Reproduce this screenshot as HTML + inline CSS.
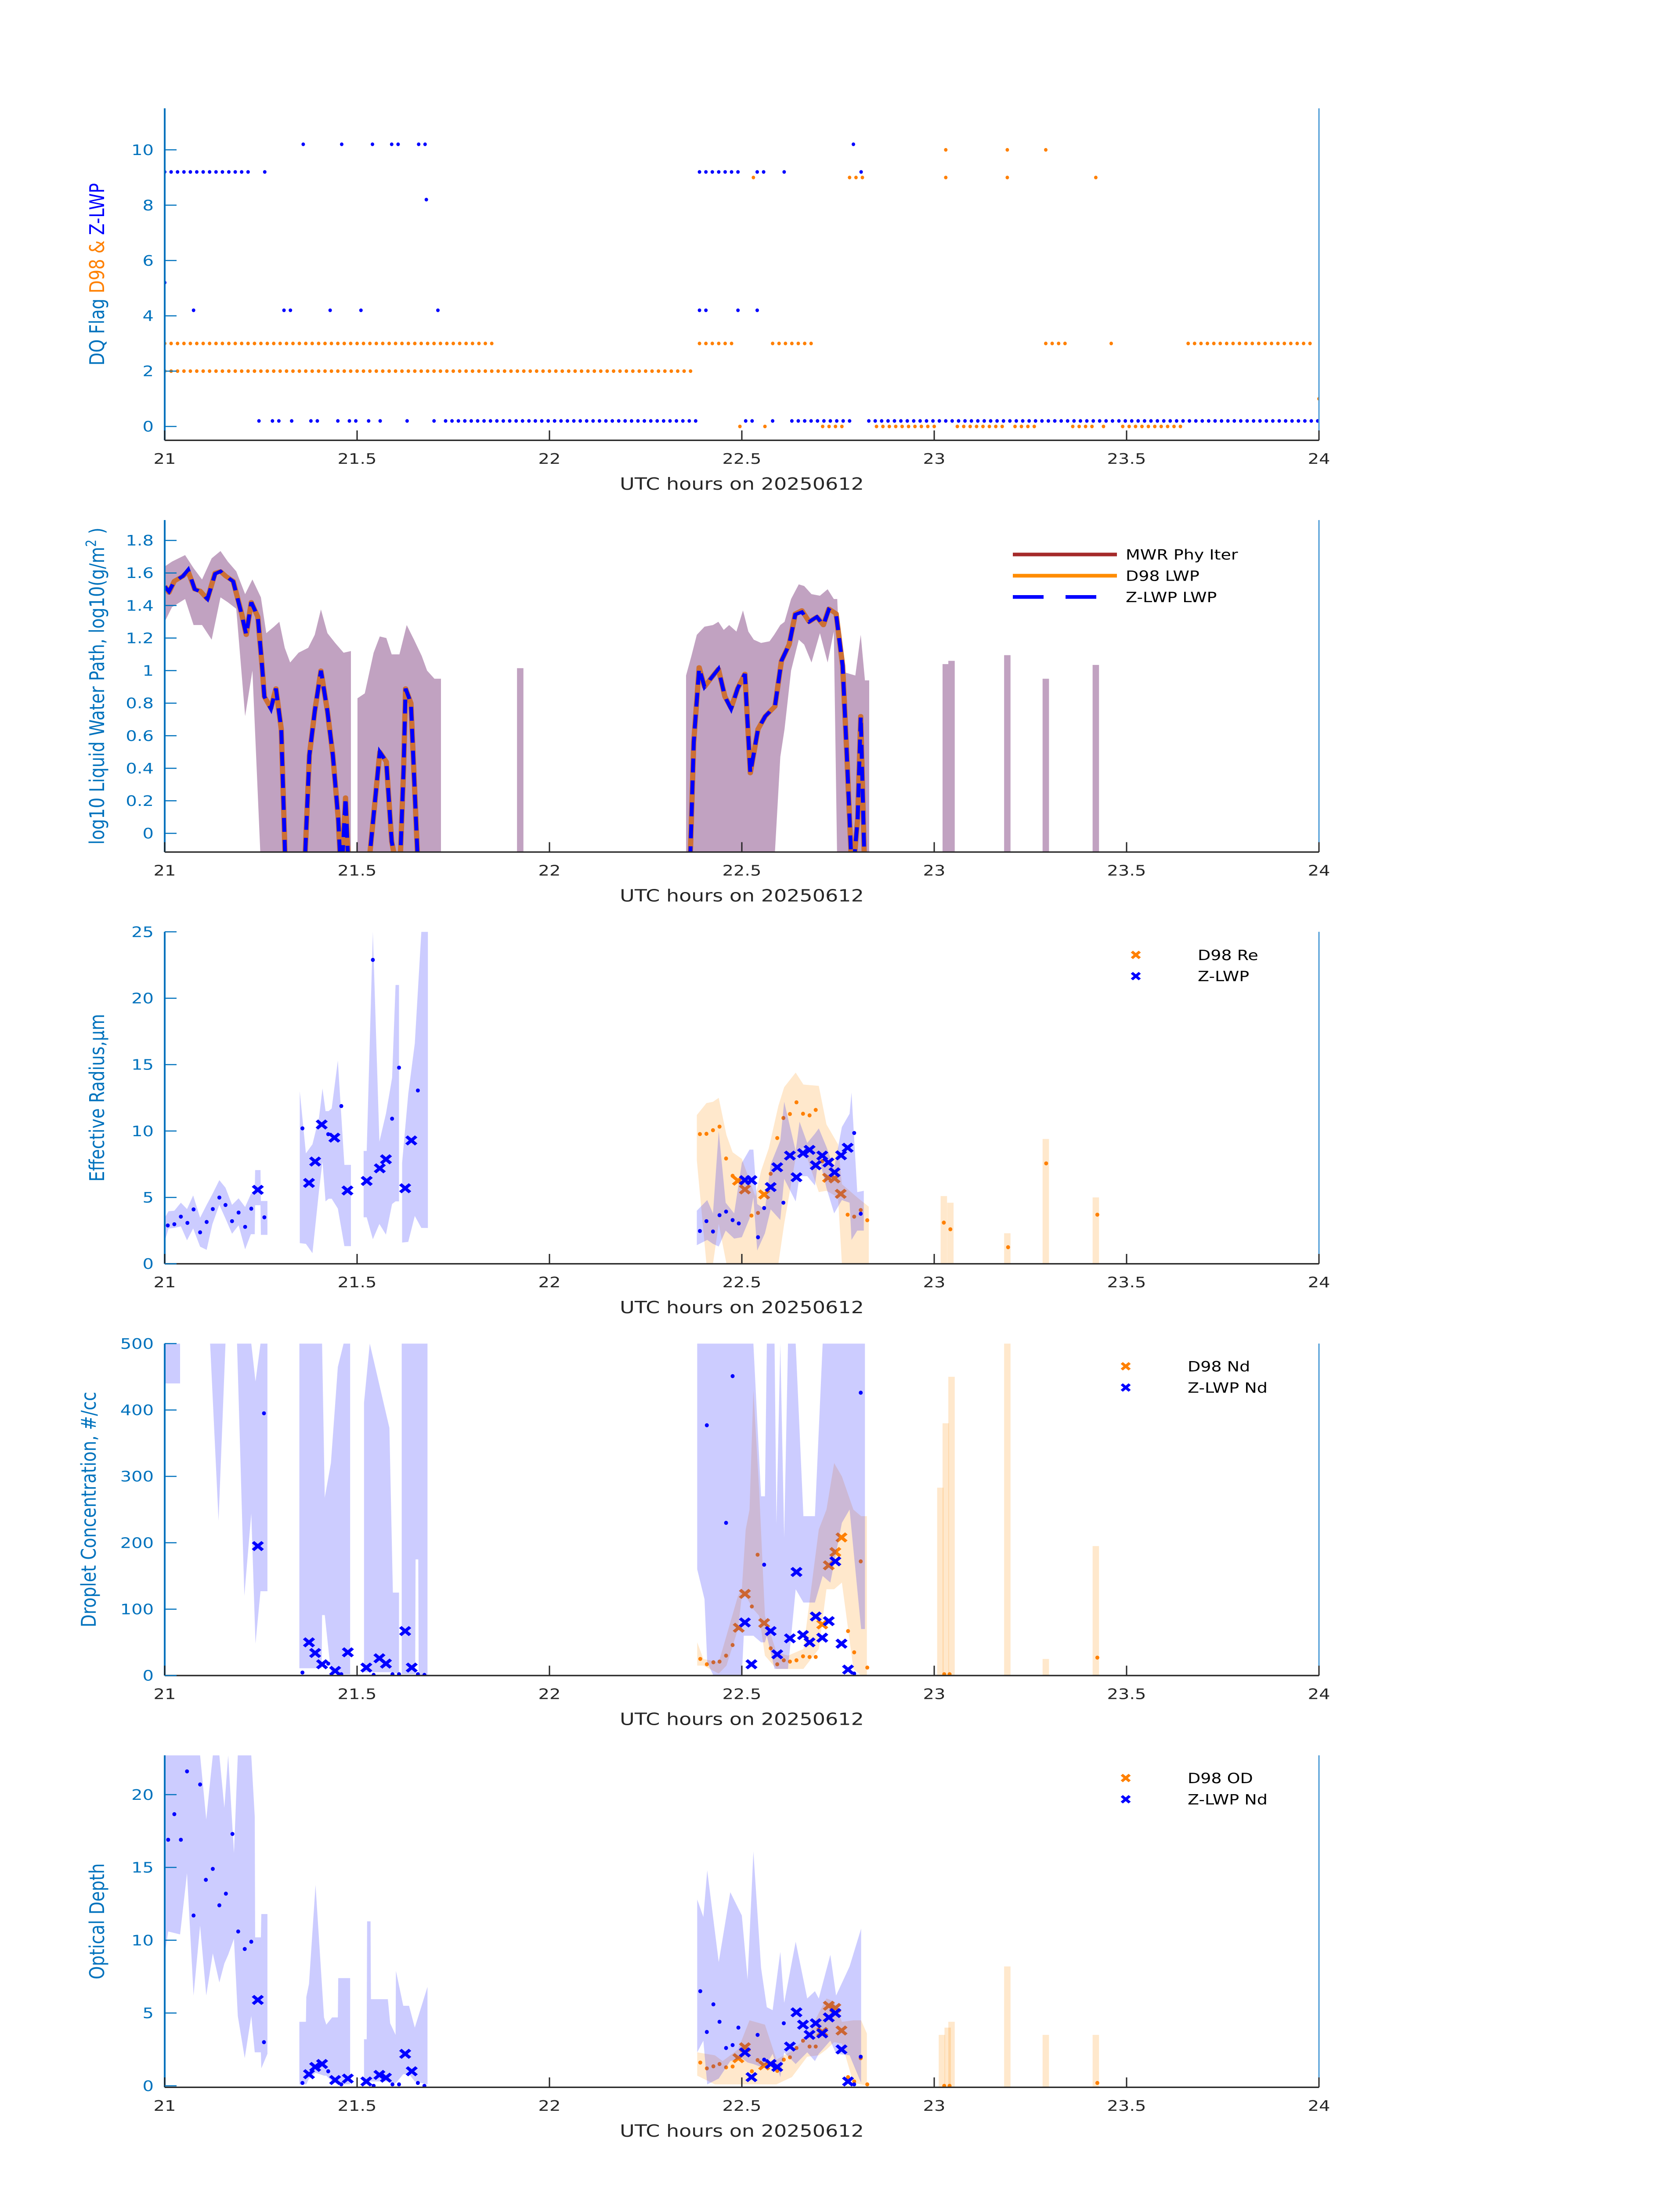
<!DOCTYPE html>
<html><head><meta charset="utf-8"><title>Cloud retrievals 20250612</title>
<style>html,body{margin:0;padding:0;background:#fff;width:100%;height:100%;overflow:hidden}#wrap{width:100vw;height:100vh;overflow:hidden;position:relative}svg{display:block;position:absolute;left:0;top:0;width:100%;height:100%}text{font-family:"DejaVu Sans","Liberation Sans",sans-serif}</style>
</head><body>
<div id="wrap">
<svg id="fig" xmlns="http://www.w3.org/2000/svg" viewBox="0 0 3825 6000" preserveAspectRatio="none">
<rect width="3825" height="6000" fill="#fff"/>
</svg>
</div>
<script>
// ---------- Panel 1: DQ flags (segments [start,end] at 1-minute resolution) ----------
const zFlag92=[[21.0,21.23],[21.26,21.26],[22.39,22.49],[22.54,22.56],[22.61,22.61],[22.81,22.81]];
const zFlag102=[[21.36,21.36],[21.46,21.46],[21.54,21.54],[21.59,21.61],[21.66,21.68],[22.79,22.79]];
const zFlag82=[[21.68,21.68]];
const zFlag52=[[21.0,21.0]];
const zFlag42=[[21.075,21.075],[21.31,21.34],[21.43,21.43],[21.51,21.51],[21.71,21.71],[22.39,22.41],[22.49,22.49],[22.54,22.54]];
const zFlag02=[[21.245,21.245],[21.28,21.30],[21.33,21.33],[21.38,21.41],[21.45,21.45],[21.48,21.50],[21.53,21.53],[21.56,21.57],[21.63,21.64],[21.70,21.70],[21.73,22.38],[22.51,22.53],[22.58,22.59],[22.63,22.78],[22.83,24.0]];
const dFlag3=[[21.0,21.86],[22.39,22.48],[22.58,22.69],[23.29,23.34],[23.46,23.47],[23.66,23.98]];
const dFlag2=[[21.0,22.38]];
const dFlag0=[[22.495,22.51],[22.56,22.56],[22.71,22.76],[22.85,23.01],[23.06,23.18],[23.21,23.27],[23.36,23.41],[23.44,23.44],[23.49,23.64]];
const dFlag9=[[22.53,22.54],[22.78,22.82],[23.03,23.04],[23.19,23.19],[23.42,23.42]];
const dFlag10=[[23.03,23.04],[23.19,23.19],[23.29,23.29]];
const dFlag1=[[24.0,24.0]];

// ---------- Panel 2: LWP ----------
const lwpTimes=[21.0,21.011,21.025,21.047,21.061,21.078,21.092,21.111,21.131,21.145,21.159,21.178,21.2,21.212,21.225,21.242,21.253,21.259,21.276,21.289,21.303,21.315,21.362,21.376,21.39,21.406,21.423,21.437,21.451,21.459,21.47,21.479,21.526,21.559,21.576,21.59,21.61,21.621,21.626,21.64,21.66,null,
22.364,22.375,22.389,22.403,22.419,22.439,22.456,22.472,22.489,22.508,22.522,22.542,22.561,22.586,22.603,22.623,22.639,22.656,22.675,22.695,22.712,22.726,22.745,22.762,22.773,22.787,22.801,22.809,22.82];
const zlwpLwp=[1.517,1.486,1.548,1.58,1.62,1.5,1.486,1.44,1.595,1.61,1.58,1.548,1.345,1.22,1.42,1.33,1.03,0.84,0.765,0.89,0.64,-0.3,-0.3,0.48,0.75,1.0,0.75,0.48,0.09,-0.3,0.22,-0.3,-0.3,0.5,0.44,-0.05,-0.3,0.4,0.89,0.8,-0.3,null,
-0.3,0.56,1.015,0.9,0.95,1.01,0.84,0.765,0.89,0.98,0.37,0.64,0.72,0.78,1.06,1.16,1.345,1.36,1.3,1.33,1.28,1.375,1.345,1.03,0.48,-0.3,0.09,0.72,-0.3];
const d98Lwp=[1.52,1.48,1.55,1.58,1.61,1.5,1.49,1.44,1.6,1.61,1.58,1.55,1.35,1.22,1.42,1.33,1.03,0.84,0.77,0.89,0.64,-0.3,-0.3,0.48,0.75,1.0,0.75,0.48,0.09,-0.3,0.22,-0.3,-0.3,0.5,0.44,-0.05,-0.3,0.4,0.89,0.8,-0.3,null,
-0.3,0.56,1.02,0.9,0.95,1.01,0.84,0.77,0.89,0.98,0.37,0.64,0.72,0.78,1.06,1.16,1.35,1.37,1.3,1.33,1.28,1.38,1.35,1.03,0.48,-0.3,0.09,0.72,-0.3];
const lwpBandT=[21.0,21.019,21.053,21.075,21.097,21.122,21.145,21.164,21.186,21.209,21.228,21.25,21.264,21.284,21.298,21.312,21.326,21.348,21.373,21.39,21.406,21.423,21.443,21.465,21.484,null,
21.501,21.52,21.543,21.559,21.576,21.59,21.61,21.629,21.648,21.668,21.682,21.701,21.718,null,
22.355,22.369,22.383,22.403,22.425,22.439,22.453,22.467,22.486,22.503,22.517,22.531,22.55,22.572,22.584,22.6,22.611,22.628,22.648,22.662,22.681,22.703,22.723,22.739,22.748,22.756,22.773,22.795,22.809,22.82,22.831];
const lwpBandHi=[1.64,1.67,1.71,1.63,1.56,1.69,1.735,1.67,1.61,1.47,1.56,1.45,1.23,1.27,1.3,1.14,1.05,1.11,1.14,1.22,1.376,1.23,1.17,1.11,1.12,null,
0.83,0.86,1.11,1.21,1.2,1.1,1.1,1.28,1.19,1.09,1.0,0.95,0.95,null,
0.97,1.09,1.22,1.27,1.28,1.3,1.25,1.28,1.24,1.37,1.24,1.19,1.17,1.18,1.22,1.28,1.3,1.44,1.53,1.52,1.47,1.46,1.5,1.44,1.44,1.0,0.985,0.97,1.22,0.94,0.94];
const lwpBandLo=[1.3,1.39,1.44,1.28,1.28,1.19,1.45,1.42,1.38,0.72,1.0,-0.2,-0.2,-0.2,-0.2,-0.2,-0.2,-0.2,-0.2,-0.2,-0.2,-0.2,-0.2,-0.2,-0.2,null,
-0.2,-0.2,-0.2,-0.2,-0.2,-0.2,-0.2,-0.2,-0.2,-0.2,-0.2,-0.2,-0.2,null,
-0.2,-0.2,-0.2,-0.2,-0.2,-0.2,-0.2,-0.2,-0.2,-0.2,-0.2,-0.2,-0.2,-0.2,-0.2,0.47,0.64,1.0,1.19,1.16,1.05,1.23,1.05,1.24,-0.2,-0.2,-0.2,-0.2,-0.2,-0.2,-0.2];
const lwpBarT=[21.924,23.03,23.045,23.19,23.29,23.42];
const lwpBarHi=[1.015,1.04,1.06,1.095,0.95,1.035];

// ---------- Panel 3: Effective radius ----------
const reZdotT=[21.008,21.025,21.042,21.059,21.075,21.092,21.109,21.125,21.142,21.158,21.175,21.192,21.209,21.225,21.259,21.358,21.425,21.459,21.541,21.591,21.609,21.658,22.391,22.408,22.425,22.442,22.459,22.476,22.492,22.542,22.558,22.608,22.792,22.809];
const reZdotV=[2.89,2.98,3.55,3.08,4.1,2.37,3.15,4.12,4.99,4.43,3.21,3.86,2.78,4.15,3.5,10.2,9.76,11.88,22.89,10.93,14.77,13.05,2.47,3.21,2.43,3.66,3.93,3.29,3.04,2.0,4.2,4.6,9.85,3.77];
const reZxT=[21.242,21.375,21.391,21.408,21.441,21.475,21.525,21.559,21.575,21.625,21.641,22.508,22.525,22.575,22.592,22.625,22.642,22.659,22.676,22.692,22.709,22.725,22.741,22.758,22.775];
const reZxV=[5.57,6.09,7.7,10.49,9.5,5.52,6.24,7.19,7.87,5.69,9.29,6.3,6.3,5.78,7.27,8.15,6.52,8.33,8.58,7.42,8.15,7.63,6.89,8.17,8.74];
const reDdotT=[22.391,22.408,22.425,22.442,22.459,22.476,22.525,22.542,22.575,22.592,22.608,22.625,22.642,22.659,22.676,22.692,22.709,22.775,22.792,22.809,22.826,23.025,23.042,23.192,23.291,23.424];
const reDdotV=[9.77,9.79,10.06,10.33,7.93,6.63,3.63,3.83,6.78,9.47,10.98,11.28,12.16,11.3,11.18,11.59,7.73,3.7,3.55,4.05,3.28,3.1,2.6,1.25,7.56,3.7];
const reDxT=[22.49,22.508,22.558,22.724,22.741,22.757];
const reDxV=[6.26,5.6,5.22,6.48,6.43,5.27];
const reZbandT=[21.0,21.01,21.025,21.042,21.058,21.074,21.092,21.109,21.124,21.142,21.158,21.175,21.192,21.209,21.224,21.234,21.235,21.249,21.25,21.267,null,
21.351,21.367,21.384,21.401,21.41,21.418,21.426,21.434,21.45,21.467,21.484,null,
21.517,21.525,21.541,21.558,21.575,21.591,21.6,21.609,null,21.617,21.633,21.65,21.667,21.684,null,
22.383,22.41,22.425,22.44,22.458,22.48,22.5,22.52,22.53,22.54,22.56,22.575,22.6,22.61,22.64,22.65,22.67,22.69,22.7,22.72,22.74,22.76,22.78,22.785,22.8,22.817];
const reZbandLo=[1.69,2.66,2.7,2.82,1.77,2.66,1.29,1.05,2.99,4.44,3.4,2.26,2.9,1.09,2.23,2.23,4.41,4.41,2.18,2.18,null,
1.56,1.5,0.8,5.5,7.7,4.7,4.9,4.9,4.16,1.33,1.33,null,
3.5,3.5,1.85,3.0,2.2,4.5,4.7,4.7,null,1.6,1.65,3.6,2.7,2.7,null,
1.4,1.8,1.5,1.3,2.5,1.9,2.0,3.4,5.0,1.0,2.3,4.1,3.3,6.4,4.7,6.6,6.6,5.9,8.1,5.7,3.8,4.8,4.6,1.8,2.5,2.5];
const reZbandHi=[3.47,3.96,4.0,4.6,4.12,5.15,3.47,4.44,5.25,6.3,5.73,4.44,4.93,4.28,5.25,5.41,7.06,7.06,4.73,4.73,null,
13.0,8.32,9.0,11.0,13.2,11.5,11.5,11.7,15.3,7.45,7.45,null,
8.5,8.5,25,9.2,11.3,14.0,21,21,null,7.6,12.8,16.6,25,25,null,
4.0,4.8,3.8,10.0,4.6,3.8,7.6,8.6,8.6,4.5,4.1,7.5,9.3,12.2,8.5,10.7,9.1,9.8,10.2,8.8,7.2,10.3,11.3,12.9,5.4,5.5];
const reDbandT=[22.383,22.408,22.425,22.44,22.46,22.476,22.5,22.535,22.55,22.57,22.595,22.61,22.64,22.66,22.7,22.72,22.75,22.76,22.8,22.83];
const reDbandLo=[7.8,0,0,3.0,0,0,0,0,0,0,0,3.0,8.0,8.8,5.4,5.5,5.0,0,0,0];
const reDbandHi=[11.2,12.1,12.2,12.5,9.7,8.4,7.9,5.1,7.0,8.7,11.9,13.3,14.4,13.5,13.4,10.5,9.0,6.0,5.0,4.3];
const reDbarT=[23.025,23.042,23.19,23.29,23.42];
const reDbarHi=[5.1,4.6,2.3,9.4,5.0];

// ---------- Panel 4: Droplet concentration ----------
const ndZdotT=[21.258,21.358,21.425,21.459,21.543,21.592,21.609,21.658,21.675,22.409,22.459,22.476,22.558,22.792,22.809];
const ndZdotV=[395,4.5,18,2,1,2,2,2,1,377,230,451,167,3,426];
const ndZxT=[21.242,21.375,21.391,21.409,21.443,21.476,21.524,21.558,21.575,21.625,21.642,22.508,22.525,22.575,22.592,22.625,22.642,22.659,22.676,22.692,22.709,22.726,22.743,22.759,22.776];
const ndZxV=[195,50,34,17,7,35,12,26,18,67,12,80,17,67,32,56,156,61,50,89,57,82,172,48,9];
const ndDdotT=[22.392,22.409,22.426,22.442,22.459,22.476,22.526,22.541,22.575,22.592,22.609,22.625,22.642,22.659,22.676,22.692,22.776,22.792,22.809,22.826,23.026,23.04,23.424];
const ndDdotV=[25,17,20,21,30,46,104,182,41,17,23,21,23,29,28,28,67,35,172,12,2,2,27];
const ndDxT=[22.492,22.508,22.558,22.709,22.726,22.743,22.759];
const ndDxV=[72,123,79,77,166,186,208];
const ndZbandT=[21.0,21.04,null,21.118,21.14,21.158,null,21.188,21.207,21.225,21.236,21.249,21.267,null,
21.35,21.408,21.409,21.416,21.432,21.45,21.465,21.482,null,21.518,21.533,21.584,21.593,21.609,null,21.616,21.651,21.652,21.659,21.66,21.683,null,
22.384,22.403,22.41,22.426,22.5,22.505,22.53,22.55,22.56,22.565,22.585,22.59,22.6,22.61,22.62,22.64,22.66,22.69,22.71,22.73,22.76,22.78,22.81,22.82];
const ndZbandLo=[440,440,null,500,233,500,null,500,120,244,48,127,127,null,
11,11,91,91,5,5,2,2,null,5,5,5,5,2,null,2,2,175,175,1,1,null,
160,115,20,0,0,60,60,50,50,60,10,10,10,10,10,130,110,110,150,140,230,250,70,70];
const ndZbandHi=[500,500,null,500,500,500,null,500,500,500,443,500,500,null,
500,500,500,268,320,465,500,500,null,411,500,373,125,125,null,500,500,500,500,500,500,null,
500,500,500,500,500,500,500,270,270,500,500,228,500,208,500,500,240,240,500,500,500,500,500,500];
const ndDbandT=[22.384,22.4,22.44,22.46,22.49,22.5,22.51,22.52,22.53,22.545,22.56,22.59,22.62,22.66,22.7,22.72,22.74,22.76,22.79,22.81,22.825];
const ndDbandLo=[15,15,3,15,70,120,120,110,100,90,30,10,10,10,40,130,130,140,10,0,0];
const ndDbandHi=[50,25,20,60,120,130,220,250,430,280,90,35,30,40,220,250,320,300,250,240,240];
const ndDbarT=[23.016,23.03,23.045,23.19,23.29,23.42];
const ndDbarHi=[283,380,450,500,25,195];

// ---------- Panel 5: Optical depth ----------
const odZdotT=[21.009,21.025,21.042,21.058,21.075,21.092,21.107,21.125,21.142,21.159,21.176,21.191,21.208,21.225,21.258,21.358,21.425,21.459,21.543,21.592,21.609,21.658,21.675,22.392,22.409,22.426,22.442,22.459,22.476,22.491,22.541,22.558,22.609,22.792,22.809];
const odZdotV=[16.9,18.66,16.9,21.6,11.7,20.7,14.15,14.9,12.4,13.2,17.3,10.6,9.4,9.9,3.0,0.2,1.0,0.1,0,0.1,0.1,0.2,0,6.5,3.7,5.6,4.4,2.6,2.8,4.0,3.5,1.8,4.3,0.1,2.0];
const odZxT=[21.242,21.375,21.391,21.409,21.443,21.476,21.524,21.558,21.575,21.625,21.642,22.508,22.525,22.575,22.592,22.625,22.642,22.659,22.676,22.692,22.709,22.726,22.743,22.759,22.776];
const odZxV=[5.9,0.8,1.3,1.5,0.4,0.5,0.3,0.75,0.56,2.2,1.0,2.3,0.6,1.5,1.3,2.7,5.05,4.2,3.5,4.3,3.6,4.7,5.0,2.5,0.3];
const odDdotT=[22.392,22.409,22.426,22.442,22.459,22.476,22.526,22.541,22.592,22.609,22.625,22.642,22.659,22.676,22.692,22.776,22.792,22.809,22.826,23.026,23.04,23.424];
const odDdotV=[1.6,1.2,1.34,1.5,1.27,1.33,1.0,1.77,1.03,1.8,1.96,2.6,3.1,2.7,2.7,0.6,0.3,1.9,0.1,0,0,0.2];
const odDxT=[22.491,22.508,22.558,22.709,22.726,22.743,22.759];
const odDxV=[1.9,2.65,1.4,3.7,5.5,5.35,3.8];
const odZbandT=[21.0,21.009,21.04,21.058,21.075,21.092,21.108,21.125,21.142,21.155,21.165,21.18,21.19,21.208,21.225,21.234,21.235,21.25,21.251,21.267,null,
21.35,21.367,21.368,21.375,21.392,21.414,21.42,21.435,21.45,21.451,21.482,null,
21.518,21.525,21.526,21.535,21.536,21.58,21.586,21.6,21.601,21.62,21.635,21.65,21.683,null,
22.384,22.4,22.41,22.44,22.47,22.5,22.515,22.53,22.55,22.565,22.58,22.6,22.61,22.64,22.67,22.69,22.7,22.73,22.745,22.78,22.81];
const odZbandLo=[9.0,10.6,10.4,14.6,6.2,11.0,6.2,9.1,7.1,8.4,9.0,10.1,4.8,1.9,4.8,2.3,2.3,2.3,1.2,2.2,null,
0.1,0.1,0.1,0.5,0.9,0.7,0.7,0.3,0.1,0.1,0.1,null,
0.1,0.1,0.2,0.3,0.3,0.3,0.2,0.2,0.2,0.8,0.8,0.3,0.1,null,
2.3,3.1,0.1,0.5,1.7,1.9,1.6,1.5,1.3,1.5,2.2,0.6,2.3,1.5,2.3,1.7,2.2,3.1,2.2,2.1,0.2];
const odZbandHi=[22.7,22.7,22.7,22.7,22.7,22.7,18.3,22.7,22.7,19.1,22.7,16.0,22.7,22.7,22.7,18.5,10.2,10.2,11.8,11.8,null,
4.4,4.4,6.1,7.0,13.8,4.7,4.2,4.7,4.7,7.4,7.4,null,
3.2,3.2,11.3,11.3,5.95,5.95,4.3,3.5,7.9,5.5,5.5,4.0,6.8,null,
12.8,11.6,14.8,8.5,13.3,11.7,7.3,16.1,8.1,5.4,5.2,9.2,5.7,9.9,6.0,6.5,6.0,9.0,6.2,8.2,10.8];
const odDbandT=[22.384,22.43,22.45,22.49,22.52,22.56,22.59,22.63,22.67,22.7,22.72,22.74,22.76,22.79,22.81,22.825];
const odDbandLo=[0.7,0.1,0.1,0.1,0.1,0.1,0.1,0.6,2.0,2.1,2.5,3.0,2.9,0.2,0.1,0];
const odDbandHi=[2.3,2.1,1.7,2.5,4.5,4.2,1.8,2.4,3.4,5.0,6.0,5.8,4.4,4.5,4.5,3.6];
const odDbarT=[23.02,23.035,23.045,23.19,23.29,23.42];
const odDbarHi=[3.5,4.0,4.4,8.2,3.5,3.5];

// ---------- rendering ----------
const NS='http://www.w3.org/2000/svg';
const svg=document.getElementById('fig');
const X0=375,X1=3003,PH=907;
const xs=h=>X0+(h-21)*(X1-X0)/3;
const panels=[
 {top:296,ymin:-0.5,ymax:11.5,ticks:[0,2,4,6,8,10],lab:['0','2','4','6','8','10']},
 {top:1421,ymin:-0.115,ymax:1.925,ticks:[0,0.2,0.4,0.6,0.8,1,1.2,1.4,1.6,1.8],lab:['0','0.2','0.4','0.6','0.8','1','1.2','1.4','1.6','1.8']},
 {top:2546,ymin:0,ymax:25,ticks:[0,5,10,15,20,25],lab:['0','5','10','15','20','25']},
 {top:3671,ymin:0,ymax:500,ticks:[0,100,200,300,400,500],lab:['0','100','200','300','400','500']},
 {top:4796,ymin:-0.1,ymax:22.7,ticks:[0,5,10,15,20],lab:['0','5','10','15','20']}];
const xTicks=[21,21.5,22,22.5,23,23.5,24];
const xTickLabels=['21','21.5','22','22.5','23','23.5','24'];
function ys(p,v){return p.top+PH*(p.ymax-v)/(p.ymax-p.ymin);}
function mk(tag,attrs,parent){const e=document.createElementNS(NS,tag);for(const k in attrs)e.setAttribute(k,attrs[k]);(parent||svg).appendChild(e);return e;}

const BLUE='#0000ff',ORANGE='#ff8000',AX='#0072bd';
const BAND_B='rgba(0,0,255,0.2)',BAND_O='rgba(255,140,0,0.2)';

function clipFor(i,p){
  const cp=mk('clipPath',{id:'clip'+i});
  mk('rect',{x:X0,y:p.top,width:X1-X0,height:PH},cp);
}
function drawBand(g,p,ts,lo,hi,fill,name){
  let seg=[];
  const flush=()=>{
    if(seg.length<2){seg=[];return;}
    const up=seg.map(s=>xs(s[0]).toFixed(1)+','+ys(p,s[2]).toFixed(1));
    const dn=seg.slice().reverse().map(s=>xs(s[0]).toFixed(1)+','+ys(p,s[1]).toFixed(1));
    const e=mk('polygon',{points:up.concat(dn).join(' '),fill:fill},g);
    
    
    seg=[];
  };
  for(let i=0;i<ts.length;i++){ if(ts[i]===null){flush();continue;} seg.push([ts[i],lo[i],hi[i]]); }
  flush();
}
function drawBars(g,p,ts,hi,fill,name){
  const w=14.6;
  ts.forEach((t,i)=>{
    const y0=ys(p,Math.max(p.ymin,0)),y1=ys(p,hi[i]);
    const e=mk('rect',{x:xs(t)-w/2,y:Math.min(y0,y1),width:w,height:Math.abs(y0-y1)+ (p.ymin<0?ys(p,p.ymin)-y0:0),fill:fill},g);
    
    
  });
}
function drawDots(g,p,ts,vs,col,name){
  ts.forEach((t,i)=>{
    const e=mk('ellipse',{cx:xs(t).toFixed(1),cy:ys(p,vs[i]).toFixed(1),rx:4.5,ry:5.5,fill:col},g);
    
    
  });
}
function drawX(g,p,ts,vs,col,name){
  ts.forEach((t,i)=>{
    const cx=xs(t),cy=ys(p,vs[i]),r=11;
    const e=mk('path',{d:`M${cx-r},${cy-r}L${cx+r},${cy+r}M${cx-r},${cy+r}L${cx+r},${cy-r}`,stroke:col,'stroke-width':8,fill:'none'},g);
    
    
  });
}
function drawLine(g,p,ts,vs,attrs,name){
  let d='',pen=false;
  ts.forEach((t,i)=>{ if(t===null||vs[i]===null){pen=false;return;} d+=(pen?'L':'M')+xs(t).toFixed(1)+','+ys(p,vs[i]).toFixed(1); pen=true; });
  const a=Object.assign({d:d,fill:'none'},attrs);
  const e=mk('path',a,g);
  
  
}
function drawFlags(g,p,segs,val,col,name){
  segs.forEach(s=>{
    for(let t=s[0];t<=s[1]+1e-6;t+=1/60){
      const e=mk('ellipse',{cx:xs(t).toFixed(1),cy:ys(p,val).toFixed(1),rx:4,ry:5,fill:col},g);
      
      
    }
  });
}
function axes(i,p){
  const bot=p.top+PH;
  const g=mk('g',{});
  
  
  let e=mk('line',{x1:X1,y1:p.top,x2:X1,y2:bot,stroke:'#4a9ad6','stroke-width':3},g);
  
  e=mk('line',{x1:X0,y1:bot,x2:X1,y2:bot,stroke:'#262626','stroke-width':4},g);
  
  e=mk('line',{x1:X0,y1:p.top,x2:X0,y2:bot,stroke:AX,'stroke-width':4},g);
  
  xTicks.forEach((t,k)=>{
    const tk=mk('line',{x1:xs(t),y1:bot,x2:xs(t),y2:bot-27,stroke:'#262626','stroke-width':3},g);
    
    const tl=mk('text',{x:xs(t),y:bot+64,'font-size':40,fill:'#262626','text-anchor':'middle'},g);
    tl.textContent=xTickLabels[k];
    
  });
  p.ticks.forEach((v,k)=>{
    const y=ys(p,v);
    const tk=mk('line',{x1:X0,y1:y,x2:X0+27,y2:y,stroke:AX,'stroke-width':3},g);
    
    const tl=mk('text',{x:350,y:y+14,'font-size':40,fill:AX,'text-anchor':'end'},g);
    tl.textContent=p.lab[k];
    
  });
  const xl=mk('text',{x:(X0+X1)/2,y:bot+135,'font-size':46,fill:'#262626','text-anchor':'middle'},g);
  xl.textContent='UTC hours on 20250612';
  
}
function ylabel(p,x,html){
  const cy=p.top+PH/2;
  const t=mk('text',{x:x,y:cy,'font-size':46,fill:AX,'text-anchor':'middle',transform:`rotate(-90 ${x} ${cy})`});
  t.innerHTML=html;
  
  
}
function legend(x0,y0,entries,textX){
  const g=mk('g',{});
  
  
  entries.forEach((en,k)=>{
    const y=y0+k*58;
    if(en.type==='line'){
      const l=mk('line',{x1:x0,y1:y,x2:x0+237,y2:y,stroke:en.col,'stroke-width':10,'stroke-dasharray':en.dash||'none'},g);
      
    } else {
      const r=9;
      const l=mk('path',{d:`M${x0-r},${y-r}L${x0+r},${y+r}M${x0-r},${y+r}L${x0+r},${y-r}`,stroke:en.col,'stroke-width':7},g);
      
    }
    const t=mk('text',{x:textX,y:y+14,'font-size':38,fill:'#000'},g);
    t.textContent=en.label;
    
  });
}

panels.forEach((p,i)=>clipFor(i,p));
function plotGroup(i,name){const g=mk('g',{'clip-path':`url(#clip${i})`});return g;}

// Panel 1
{const p=panels[0],g=plotGroup(0,'dq-flag-plot');
 drawFlags(g,p,dFlag3,3,ORANGE,'d98-flag-point');drawFlags(g,p,dFlag2,2,ORANGE,'d98-flag-point');
 drawFlags(g,p,dFlag0,0,ORANGE,'d98-flag-point');drawFlags(g,p,dFlag9,9,ORANGE,'d98-flag-point');
 drawFlags(g,p,dFlag10,10,ORANGE,'d98-flag-point');drawFlags(g,p,dFlag1,1,ORANGE,'d98-flag-point');
 drawFlags(g,p,zFlag92,9.2,BLUE,'zlwp-flag-point');drawFlags(g,p,zFlag102,10.2,BLUE,'zlwp-flag-point');
 drawFlags(g,p,zFlag82,8.2,BLUE,'zlwp-flag-point');drawFlags(g,p,zFlag52,5.2,BLUE,'zlwp-flag-point');
 drawFlags(g,p,zFlag42,4.2,BLUE,'zlwp-flag-point');drawFlags(g,p,zFlag02,0.2,BLUE,'zlwp-flag-point');
 axes(0,p);
 ylabel(p,237,'<tspan fill="#0072bd">DQ Flag </tspan><tspan fill="#ff8000">D98 &amp; </tspan><tspan fill="#0000ff">Z-LWP</tspan>');}
// Panel 2
{const p=panels[1],g=plotGroup(1,'lwp-plot');
 drawBand(g,p,lwpBandT,lwpBandLo,lwpBandHi,'#c1a2c1','mwr-lwp-uncertainty-band');
 drawBars(g,p,lwpBarT,lwpBarHi,'#c1a2c1','mwr-lwp-uncertainty-bar');
 drawLine(g,p,lwpTimes,d98Lwp,{stroke:'#cd7034','stroke-width':12,'stroke-linejoin':'round'},'d98-lwp-line');
 drawLine(g,p,lwpTimes,zlwpLwp,{stroke:BLUE,'stroke-width':9,'stroke-dasharray':'38 22'},'zlwp-lwp-line');
 axes(1,p);
 ylabel(p,237,'log10 Liquid Water Path, log10(g/m<tspan baseline-shift="super" font-size="32">2</tspan> )');
 legend(2306,1515,[{type:'line',col:'#a52a2a',label:'MWR Phy Iter'},{type:'line',col:'#ff8c00',label:'D98 LWP'},{type:'line',col:BLUE,dash:'70 50',label:'Z-LWP LWP'}],2563);}
// Panel 3
{const p=panels[2],g=plotGroup(2,'re-plot');
 drawBand(g,p,reDbandT,reDbandLo,reDbandHi,BAND_O,'d98-re-band');
 drawBars(g,p,reDbarT,reDbarHi,BAND_O,'d98-re-bar');
 drawDots(g,p,reDdotT,reDdotV,ORANGE,'d98-re-point');drawX(g,p,reDxT,reDxV,ORANGE,'d98-re-marker');
 drawBand(g,p,reZbandT,reZbandLo,reZbandHi,BAND_B,'zlwp-re-band');
 drawDots(g,p,reZdotT,reZdotV,BLUE,'zlwp-re-point');drawX(g,p,reZxT,reZxV,BLUE,'zlwp-re-marker');
 axes(2,p);
 ylabel(p,237,'Effective Radius,\u03bcm');
 legend(2586,2609,[{type:'x',col:ORANGE,label:'D98 Re'},{type:'x',col:BLUE,label:'Z-LWP'}],2727);}
// Panel 4
{const p=panels[3],g=plotGroup(3,'nd-plot');
 drawBand(g,p,ndDbandT,ndDbandLo,ndDbandHi,BAND_O,'d98-nd-band');
 drawBars(g,p,ndDbarT,ndDbarHi,BAND_O,'d98-nd-bar');
 drawDots(g,p,ndDdotT,ndDdotV,ORANGE,'d98-nd-point');drawX(g,p,ndDxT,ndDxV,ORANGE,'d98-nd-marker');
 drawBand(g,p,ndZbandT,ndZbandLo,ndZbandHi,BAND_B,'zlwp-nd-band');
 drawDots(g,p,ndZdotT,ndZdotV,BLUE,'zlwp-nd-point');drawX(g,p,ndZxT,ndZxV,BLUE,'zlwp-nd-marker');
 axes(3,p);
 ylabel(p,218,'Droplet Concentration, #/cc');
 legend(2563,3733,[{type:'x',col:ORANGE,label:'D98 Nd'},{type:'x',col:BLUE,label:'Z-LWP Nd'}],2704);}
// Panel 5
{const p=panels[4],g=plotGroup(4,'od-plot');
 drawBand(g,p,odDbandT,odDbandLo,odDbandHi,BAND_O,'d98-od-band');
 drawBars(g,p,odDbarT,odDbarHi,BAND_O,'d98-od-bar');
 drawDots(g,p,odDdotT,odDdotV,ORANGE,'d98-od-point');drawX(g,p,odDxT,odDxV,ORANGE,'d98-od-marker');
 drawBand(g,p,odZbandT,odZbandLo,odZbandHi,BAND_B,'zlwp-od-band');
 drawDots(g,p,odZdotT,odZdotV,BLUE,'zlwp-od-point');drawX(g,p,odZxT,odZxV,BLUE,'zlwp-od-marker');
 axes(4,p);
 ylabel(p,237,'Optical Depth');
 legend(2563,4858,[{type:'x',col:ORANGE,label:'D98 OD'},{type:'x',col:BLUE,label:'Z-LWP Nd'}],2704);}
</script>
</body></html>
